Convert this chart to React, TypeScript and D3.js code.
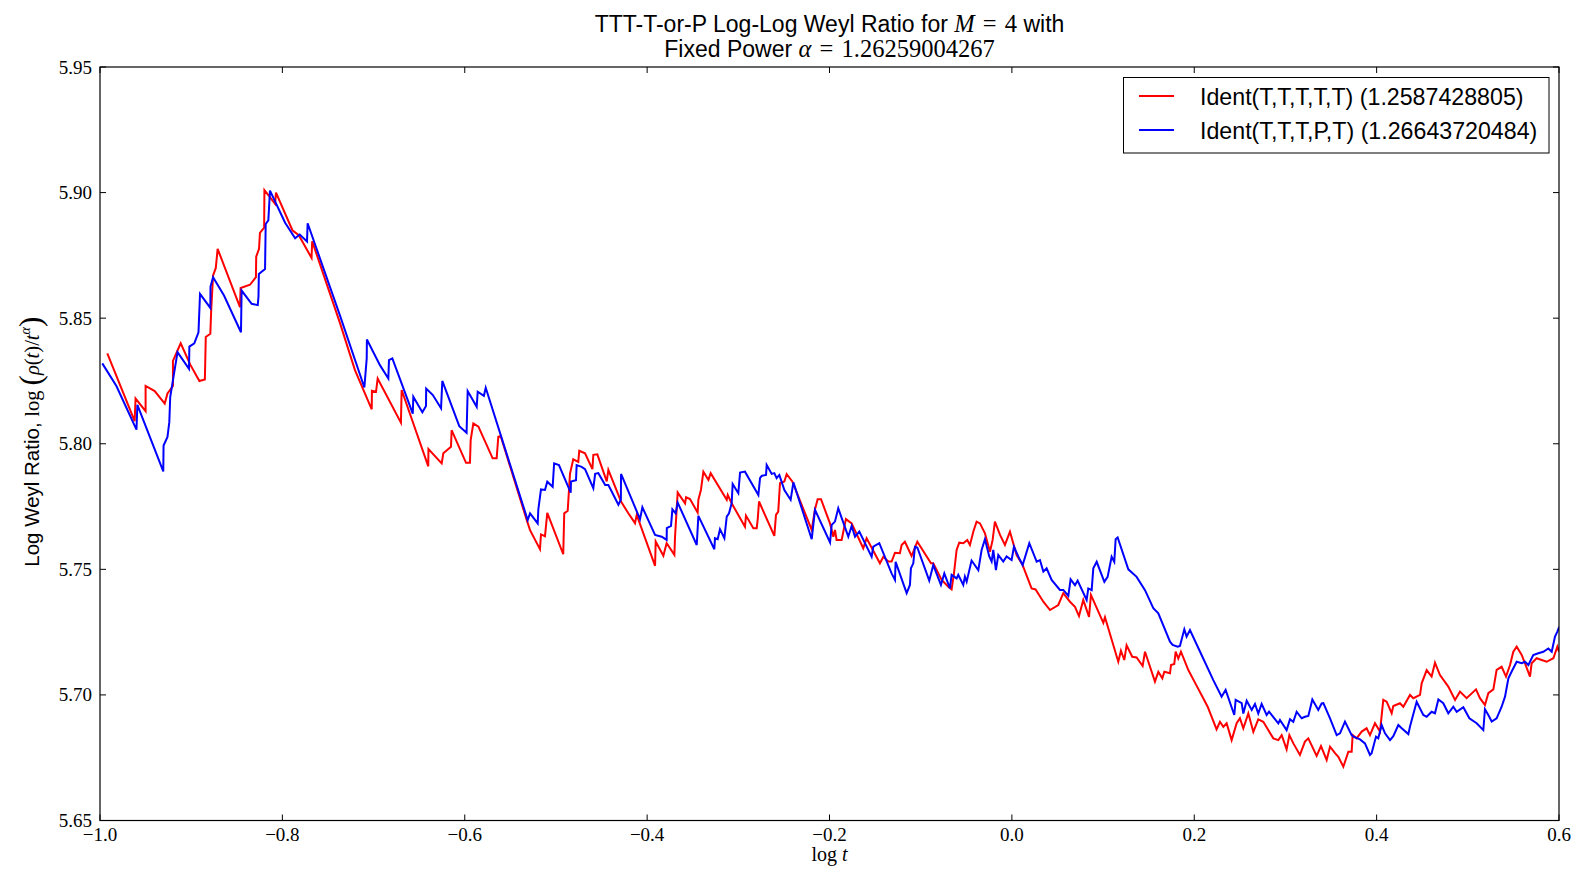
import React from "react";
import * as d3 from "d3";

const xTicks = [-1.0, -0.8, -0.6, -0.4, -0.2, 0.0, 0.2, 0.4, 0.6];
const yTicks = [5.65, 5.7, 5.75, 5.8, 5.85, 5.9, 5.95];

const redLabel = "Ident(T,T,T,T,T) (1.2587428805)";
const blueLabel = "Ident(T,T,T,P,T) (1.26643720484)";

const redSeries: [number, number][] = [
  [-0.992,5.836],[-0.962,5.809],[-0.961,5.818],[-0.950,5.813],[-0.950,5.823],[-0.940,5.821],
  [-0.929,5.816],[-0.926,5.820],[-0.920,5.823],[-0.920,5.833],[-0.9115,5.840],[-0.901,5.8315],
  [-0.891,5.825],[-0.885,5.8256],[-0.884,5.8425],[-0.879,5.8438],[-0.878,5.8537],[-0.876,5.867],
  [-0.873,5.870],[-0.871,5.8776],[-0.8465,5.8544],[-0.8458,5.862],[-0.8355,5.8633],[-0.829,5.8663],
  [-0.8287,5.8745],[-0.8256,5.8776],[-0.8246,5.884],[-0.820,5.886],[-0.8197,5.901],[-0.8154,5.899],
  [-0.808,5.8955],[-0.807,5.900],[-0.789,5.885],[-0.782,5.883],[-0.768,5.874],[-0.7673,5.8806],
  [-0.7368,5.848],[-0.7204,5.8293],[-0.702,5.8137],[-0.7018,5.8211],[-0.6973,5.8207],[-0.6955,5.826],
  [-0.670,5.8084],[-0.6692,5.8214],[-0.640,5.791],[-0.6398,5.7979],[-0.6253,5.7922],[-0.6235,5.7962],
  [-0.6151,5.7988],[-0.6144,5.8054],[-0.5986,5.7924],[-0.5943,5.7924],[-0.5935,5.8015],[-0.5906,5.8081],
  [-0.585,5.8068],[-0.5694,5.7942],[-0.565,5.7942],[-0.5632,5.8028],[-0.5606,5.8031],[-0.532,5.7696],
  [-0.5284,5.7656],[-0.5175,5.758],[-0.5164,5.7639],[-0.512,5.7632],[-0.5095,5.7725],[-0.492,5.756],
  [-0.4909,5.7723],[-0.4871,5.7733],[-0.4846,5.788],[-0.481,5.7938],[-0.4755,5.7928],[-0.4744,5.7972],
  [-0.4681,5.7962],[-0.460,5.7899],[-0.459,5.7956],[-0.4546,5.7958],[-0.4443,5.785],[-0.4425,5.7896],
  [-0.4286,5.777],[-0.4206,5.7723],[-0.4133,5.7684],[-0.4114,5.7717],[-0.3913,5.7514],[-0.3906,5.7611],
  [-0.3822,5.7554],[-0.3786,5.7604],[-0.3701,5.7558],[-0.3694,5.763],[-0.3665,5.7806],[-0.3584,5.7763],
  [-0.3573,5.7787],[-0.3530,5.778],[-0.3446,5.7726],[-0.3438,5.7777],[-0.341,5.7816],[-0.3383,5.7889],
  [-0.3328,5.7856],[-0.3303,5.7883],[-0.3127,5.7777],[-0.3116,5.7796],[-0.3073,5.7763],[-0.2927,5.767],
  [-0.2916,5.7714],[-0.2835,5.7664],[-0.2798,5.7664],[-0.2787,5.77],[-0.2773,5.777],[-0.2605,5.7633],
  [-0.2587,5.7717],[-0.2562,5.773],[-0.2543,5.7843],[-0.2495,5.785],[-0.247,5.7879],[-0.2408,5.785],
  [-0.2195,5.7657],[-0.2159,5.7739],[-0.213,5.7779],[-0.2093,5.7779],[-0.1995,5.7683],[-0.1958,5.763],
  [-0.194,5.7657],[-0.1922,5.7617],[-0.1867,5.7617],[-0.182,5.770],[-0.1757,5.7683],[-0.163,5.7584],
  [-0.1593,5.7624],[-0.1447,5.7524],[-0.141,5.755],[-0.1355,5.7531],[-0.1319,5.7531],[-0.1282,5.7566],
  [-0.1228,5.7564],[-0.1209,5.7597],[-0.1173,5.761],[-0.11,5.7553],[-0.1037,5.761],[-0.0887,5.7524],
  [-0.0862,5.7524],[-0.077,5.7458],[-0.0697,5.7431],[-0.0661,5.742],[-0.0635,5.7484],[-0.0606,5.7577],
  [-0.0577,5.7606],[-0.0533,5.7604],[-0.0489,5.7617],[-0.046,5.7597],[-0.0423,5.765],[-0.0387,5.769],
  [-0.035,5.7683],[-0.0295,5.7643],[-0.024,5.757],[-0.0211,5.7617],[-0.0186,5.769],[-0.013,5.7637],
  [-0.0076,5.7597],[-0.0021,5.765],[0.0052,5.7557],[0.0118,5.7517],[0.018,5.7458],[0.0216,5.7424],
  [0.026,5.742],[0.0345,5.7371],[0.0418,5.7338],[0.0509,5.7358],[0.0564,5.7405],[0.0637,5.7371],
  [0.0692,5.7351],[0.0736,5.7314],[0.0783,5.7378],[0.0846,5.7311],[0.0867,5.7398],[0.1003,5.7287],
  [0.1021,5.7309],[0.1167,5.7132],[0.1196,5.7176],[0.1233,5.7139],[0.1258,5.7198],[0.132,5.7152],
  [0.1368,5.7149],[0.1434,5.7115],[0.146,5.7172],[0.1569,5.7053],[0.1606,5.7092],[0.165,5.7066],
  [0.1672,5.7092],[0.1734,5.7086],[0.1745,5.7119],[0.1781,5.7123],[0.1796,5.7172],[0.1825,5.7145],
  [0.1854,5.7172],[0.1935,5.7099],[0.2008,5.7049],[0.21,5.6986],[0.2147,5.6953],[0.2245,5.6863],
  [0.2282,5.6893],[0.2319,5.6873],[0.2355,5.6887],[0.241,5.682],[0.2465,5.6887],[0.2501,5.6907],
  [0.2538,5.6867],[0.2593,5.6926],[0.2648,5.6853],[0.2702,5.6903],[0.2757,5.6893],[0.2867,5.6827],
  [0.2922,5.682],[0.2959,5.684],[0.3013,5.6783],[0.3043,5.684],[0.3087,5.6807],[0.3159,5.6761],
  [0.3214,5.6814],[0.3251,5.6827],[0.3342,5.6757],[0.339,5.6796],[0.3452,5.6741],[0.3489,5.6794],
  [0.3544,5.6768],[0.358,5.6754],[0.3635,5.6714],[0.369,5.6774],[0.3726,5.6774],[0.3737,5.684],
  [0.3781,5.6827],[0.3836,5.6854],[0.389,5.6867],[0.3927,5.684],[0.3982,5.6887],[0.4037,5.6854],
  [0.4073,5.698],[0.411,5.6973],[0.4165,5.6927],[0.4183,5.6956],[0.4256,5.6967],[0.4293,5.6953],
  [0.4366,5.700],[0.4403,5.6987],[0.4476,5.700],[0.4494,5.7046],[0.4549,5.7099],[0.4603,5.7073],
  [0.464,5.7128],[0.4695,5.7079],[0.4786,5.7033],[0.486,5.698],[0.4914,5.7013],[0.4987,5.6987],
  [0.509,5.7022],[0.5133,5.6987],[0.5188,5.696],[0.5225,5.7007],[0.528,5.7022],[0.5316,5.71],
  [0.5371,5.7112],[0.5419,5.7073],[0.5463,5.7119],[0.5499,5.7172],[0.5536,5.7192],[0.5591,5.7159],
  [0.5627,5.7126],[0.5682,5.7073],[0.57,5.7126],[0.5755,5.7146],[0.581,5.7139],[0.5865,5.7132],
  [0.5938,5.7146],[0.5982,5.7192],[0.6,5.7172],
];

const blueSeries: [number, number][] = [
  [-0.9975,5.832],[-0.982,5.823],[-0.960,5.8056],[-0.959,5.8155],[-0.9306,5.789],[-0.9303,5.7993],
  [-0.926,5.8027],[-0.924,5.8086],[-0.923,5.8186],[-0.915,5.8365],[-0.9024,5.8298],[-0.902,5.8387],
  [-0.8966,5.840],[-0.892,5.8444],[-0.8903,5.8597],[-0.879,5.8541],[-0.8788,5.8626],[-0.876,5.8663],
  [-0.864,5.859],[-0.8454,5.8444],[-0.8447,5.861],[-0.8337,5.8557],[-0.827,5.8552],[-0.8262,5.8586],
  [-0.8258,5.8676],[-0.819,5.8696],[-0.8183,5.8875],[-0.8154,5.8889],[-0.8136,5.9008],[-0.797,5.888],
  [-0.786,5.8818],[-0.781,5.8833],[-0.773,5.8805],[-0.7723,5.8878],[-0.7368,5.851],[-0.7101,5.8224],
  [-0.7075,5.834],[-0.7073,5.8415],[-0.693,5.8313],[-0.6838,5.826],[-0.6831,5.8333],[-0.6794,5.834],
  [-0.657,5.812],[-0.6564,5.8187],[-0.6465,5.8125],[-0.6425,5.815],[-0.6423,5.822],[-0.635,5.8194],
  [-0.626,5.8141],[-0.6246,5.825],[-0.606,5.807],[-0.598,5.8044],[-0.5968,5.821],[-0.5869,5.8147],
  [-0.5858,5.8207],[-0.579,5.8191],[-0.577,5.8223],[-0.531,5.7696],[-0.5284,5.7723],[-0.520,5.7683],
  [-0.5193,5.7739],[-0.5164,5.7818],[-0.512,5.7816],[-0.5095,5.7849],[-0.5036,5.7829],[-0.502,5.7922],
  [-0.4967,5.7915],[-0.4838,5.7805],[-0.4835,5.785],[-0.478,5.7855],[-0.4773,5.7915],[-0.4718,5.7908],
  [-0.4681,5.7899],[-0.459,5.7823],[-0.457,5.788],[-0.4535,5.7883],[-0.446,5.7836],[-0.4425,5.7836],
  [-0.4315,5.7757],[-0.4288,5.7777],[-0.4286,5.788],[-0.4078,5.770],[-0.4052,5.7747],[-0.3913,5.7637],
  [-0.384,5.763],[-0.3786,5.7617],[-0.3784,5.7664],[-0.3738,5.7673],[-0.3723,5.7739],[-0.3687,5.7723],
  [-0.3665,5.7766],[-0.3456,5.7597],[-0.3438,5.7713],[-0.3263,5.758],[-0.3256,5.7624],[-0.3226,5.762],
  [-0.3201,5.766],[-0.3153,5.7624],[-0.3127,5.771],[-0.3102,5.7723],[-0.3073,5.7763],[-0.3062,5.784],
  [-0.300,5.7803],[-0.2981,5.7885],[-0.2927,5.7889],[-0.278,5.7796],[-0.2762,5.7863],[-0.2744,5.7872],
  [-0.2696,5.7876],[-0.2689,5.7916],[-0.2634,5.788],[-0.2605,5.7883],[-0.258,5.7863],[-0.255,5.7876],
  [-0.2495,5.7816],[-0.2426,5.7777],[-0.2396,5.7846],[-0.2195,5.762],[-0.2159,5.7737],[-0.1994,5.7607],
  [-0.1976,5.7677],[-0.194,5.769],[-0.1904,5.7743],[-0.1794,5.763],[-0.1757,5.7673],[-0.172,5.763],
  [-0.1673,5.765],[-0.1538,5.755],[-0.152,5.759],[-0.1454,5.7604],[-0.1319,5.7484],[-0.1282,5.7458],
  [-0.1275,5.753],[-0.1154,5.7405],[-0.1118,5.7438],[-0.1107,5.7504],[-0.1081,5.7524],[-0.1063,5.759],
  [-0.1037,5.7587],[-0.0906,5.7455],[-0.0862,5.7517],[-0.0778,5.7438],[-0.0741,5.7484],[-0.0679,5.7424],
  [-0.0661,5.7478],[-0.0606,5.7464],[-0.0588,5.7478],[-0.0533,5.7438],[-0.0515,5.7471],[-0.0496,5.7451],
  [-0.0442,5.7535],[-0.0368,5.7497],[-0.0332,5.7577],[-0.0295,5.762],[-0.0248,5.7551],[-0.0222,5.7531],
  [-0.0204,5.7577],[-0.0175,5.7497],[-0.0149,5.7557],[-0.0094,5.7531],[-0.0058,5.7551],[-0.0003,5.7537],
  [0.0023,5.759],[0.007,5.7551],[0.0118,5.7517],[0.0191,5.7604],[0.0272,5.7531],[0.0308,5.7537],
  [0.0345,5.7491],[0.0381,5.7504],[0.0436,5.7458],[0.0527,5.7418],[0.0564,5.7418],[0.0619,5.7394],
  [0.0644,5.746],[0.0692,5.7437],[0.0721,5.7455],[0.082,5.7378],[0.0838,5.7424],[0.0875,5.7417],
  [0.0893,5.7504],[0.093,5.753],[0.1014,5.745],[0.105,5.747],[0.1094,5.755],[0.1123,5.753],
  [0.1138,5.762],[0.116,5.7627],[0.1277,5.750],[0.1368,5.747],[0.146,5.7417],[0.1551,5.7345],
  [0.1606,5.7325],[0.1734,5.7212],[0.1763,5.7199],[0.1818,5.7192],[0.1843,5.7195],[0.1891,5.7261],
  [0.1916,5.7232],[0.1953,5.7258],[0.2055,5.7179],[0.2209,5.7059],[0.230,5.6993],[0.2344,5.702],
  [0.2439,5.692],[0.2454,5.698],[0.252,5.6967],[0.2538,5.6926],[0.2575,5.6977],[0.263,5.694],
  [0.2666,5.6964],[0.2702,5.6926],[0.2739,5.6964],[0.2794,5.692],[0.282,5.6933],[0.2922,5.6887],
  [0.294,5.690],[0.3013,5.686],[0.305,5.6903],[0.3086,5.6893],[0.3123,5.6933],[0.3178,5.6907],
  [0.3214,5.6913],[0.3251,5.6916],[0.3295,5.6982],[0.336,5.694],[0.3397,5.6966],[0.3416,5.6967],
  [0.3489,5.6907],[0.3562,5.684],[0.3598,5.6847],[0.3653,5.6894],[0.3726,5.684],[0.3744,5.6834],
  [0.3818,5.6823],[0.3872,5.6807],[0.3927,5.6761],[0.3945,5.6768],[0.3993,5.6834],[0.4018,5.6827],
  [0.4055,5.688],[0.4092,5.6847],[0.4147,5.682],[0.4183,5.6836],[0.4238,5.688],[0.4275,5.6867],
  [0.4348,5.6844],[0.4366,5.6874],[0.4439,5.6973],[0.4512,5.692],[0.4549,5.6913],[0.4603,5.6933],
  [0.464,5.6927],[0.4677,5.6982],[0.4731,5.6967],[0.4786,5.6927],[0.4841,5.6953],[0.4878,5.6933],
  [0.4951,5.6951],[0.5017,5.6907],[0.5097,5.6887],[0.517,5.686],[0.5188,5.6943],[0.5225,5.692],
  [0.5262,5.6894],[0.5316,5.6907],[0.5371,5.6953],[0.5408,5.6993],[0.5445,5.7066],[0.5481,5.7093],
  [0.5536,5.7132],[0.5591,5.7126],[0.5627,5.7132],[0.5664,5.7119],[0.5718,5.7159],[0.5773,5.7166],
  [0.5828,5.7172],[0.5883,5.7185],[0.592,5.7172],[0.5956,5.7232],[0.5982,5.7252],[0.6003,5.7272],
];

const W = 1577;
const H = 869;
const L = 100, R = 1559, T = 67, B = 820.5;
const SERIF = "'Liberation Serif', 'Times New Roman', serif";
const SANS = "'Liberation Sans', Arial, sans-serif";

export default function App() {
  const x = d3.scaleLinear().domain([-1, 0.6]).range([L, R]);
  const y = d3.scaleLinear().domain([5.65, 5.95]).range([B, T]);
  const line = d3.line<[number, number]>().x((d) => x(d[0])).y((d) => y(d[1]));
  const fmtX = (v: number) => (v < 0 ? "\u2212" : "") + d3.format(".1f")(Math.abs(v));
  const fmtY = d3.format(".2f");
  const cx = (L + R) / 2;
  const cy = (T + B) / 2 - 2;

  return (
    <svg width={W} height={H} style={{ position: "absolute", left: 0, top: 0, background: "#fff" }}>
      <rect x={0} y={0} width={W} height={H} fill="#fff" />
      <defs>
        <clipPath id="plotclip">
          <rect x={L} y={T} width={R - L} height={B - T} />
        </clipPath>
      </defs>
      {/* title */}
      <text x={cx} y={32} textAnchor="middle" fontSize={23} fontFamily={SANS} fill="#000">
        <tspan>TTT-T-or-P Log-Log Weyl Ratio for </tspan>
        <tspan fontFamily={SERIF} fontStyle="italic" fontSize={24.5}>M</tspan>
        <tspan fontFamily={SERIF} fontSize={24.5}>{"\u2004=\u20044"}</tspan>
        <tspan> with</tspan>
      </text>
      <text x={cx} y={57} textAnchor="middle" fontSize={23} fontFamily={SANS} fill="#000">
        <tspan>Fixed Power </tspan>
        <tspan fontFamily={SERIF} fontStyle="italic" fontSize={24.5}>α</tspan>
        <tspan fontFamily={SERIF} fontSize={24.5}>{"\u2004=\u20041.26259004267"}</tspan>
      </text>

      {/* series */}
      <g clipPath="url(#plotclip)">
        <path d={line(redSeries) || ""} fill="none" stroke="#ff0000" strokeWidth={2} strokeLinejoin="miter" />
        <path d={line(blueSeries) || ""} fill="none" stroke="#0000ff" strokeWidth={2} strokeLinejoin="miter" />
      </g>

      {/* frame */}
      <rect x={L} y={T} width={R - L} height={B - T} fill="none" stroke="#000" strokeWidth={1.2} />

      {/* x ticks */}
      {xTicks.map((t) => (
        <g key={"x" + t}>
          <line x1={x(t)} x2={x(t)} y1={B} y2={B - 6} stroke="#000" strokeWidth={1} />
          <line x1={x(t)} x2={x(t)} y1={T} y2={T + 6} stroke="#000" strokeWidth={1} />
          <text x={x(t)} y={841} textAnchor="middle" fontSize={19} fontFamily={SERIF} fill="#000">
            {fmtX(t)}
          </text>
        </g>
      ))}
      {/* y ticks */}
      {yTicks.map((t) => (
        <g key={"y" + t}>
          <line x1={L} x2={L + 6} y1={y(t)} y2={y(t)} stroke="#000" strokeWidth={1} />
          <line x1={R} x2={R - 6} y1={y(t)} y2={y(t)} stroke="#000" strokeWidth={1} />
          <text x={92} y={y(t) + 6.5} textAnchor="end" fontSize={19} fontFamily={SERIF} fill="#000">
            {fmtY(t)}
          </text>
        </g>
      ))}

      {/* x label */}
      <text x={cx} y={861} textAnchor="middle" fontSize={20} fontFamily={SERIF} fill="#000">
        <tspan>log </tspan>
        <tspan fontStyle="italic">t</tspan>
      </text>

      {/* y label */}
      <text
        transform={`translate(39,${cy}) rotate(-90)`}
        textAnchor="middle"
        fontSize={20.5}
        fontFamily={SANS}
        fill="#000"
      >
        <tspan>Log Weyl Ratio, </tspan>
        <tspan fontFamily={SERIF}>log </tspan>
        <tspan fontFamily={SERIF} fontSize={31} dy={2}>(</tspan>
        <tspan fontFamily={SERIF} fontStyle="italic" dy={-2}>ρ</tspan>
        <tspan fontFamily={SERIF}>(</tspan>
        <tspan fontFamily={SERIF} fontStyle="italic">t</tspan>
        <tspan fontFamily={SERIF}>)/</tspan>
        <tspan fontFamily={SERIF} fontStyle="italic">t</tspan>
        <tspan fontFamily={SERIF} fontStyle="italic" fontSize={14} dy={-9}>α</tspan>
        <tspan fontFamily={SERIF} fontSize={31} dy={11}>)</tspan>
      </text>

      {/* legend */}
      <rect x={1123.5} y={77.5} width={425.5} height={75.5} fill="#fff" stroke="#000" strokeWidth={1} />
      <line x1={1139} x2={1174} y1={96} y2={96} stroke="#ff0000" strokeWidth={2} />
      <line x1={1139} x2={1174} y1={130} y2={130} stroke="#0000ff" strokeWidth={2} />
      <text x={1200} y={104.5} fontSize={23.2} fontFamily={SANS} fill="#000">{redLabel}</text>
      <text x={1200} y={139} fontSize={23.2} fontFamily={SANS} fill="#000">{blueLabel}</text>
    </svg>
  );
}
